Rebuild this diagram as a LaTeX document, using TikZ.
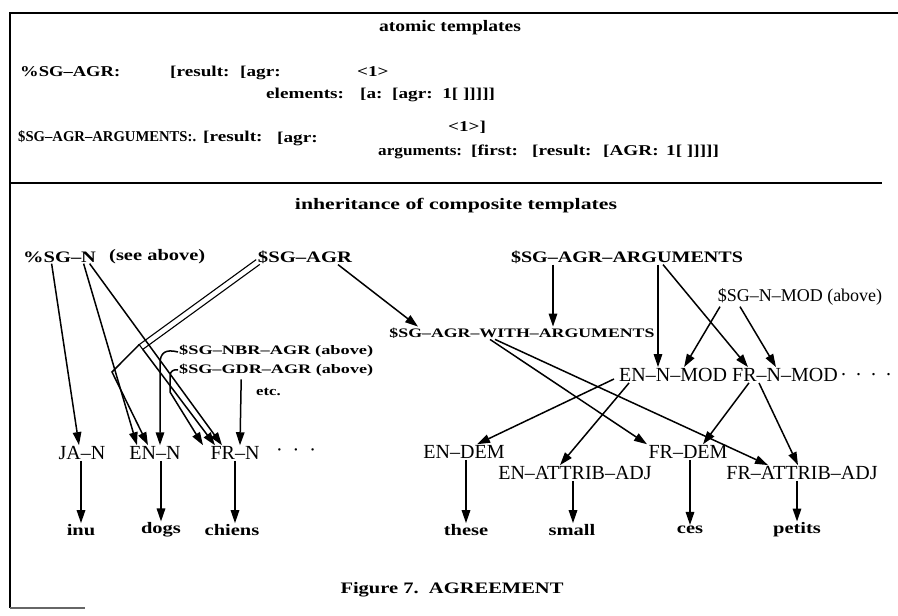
\documentclass[tikz,border=0pt]{standalone}
\usepackage{fontspec}
\setmainfont{Liberation Serif}[BoldFeatures={FakeStretch=1.28}]
\usetikzlibrary{arrows.meta}
\newcommand\fw[2]{\resizebox{#1}{\height}{#2}}
\begin{document}
\begin{tikzpicture}[x=1pt,y=-1pt,
  lab/.style={inner sep=1pt, font=\fontsize{20}{22}\selectfont},
  mlab/.style={inner sep=1pt, font=\fontsize{18}{20}\selectfont},
  blab/.style={inner sep=1pt, font=\fontsize{16}{18}\selectfont\bfseries},
  slab/.style={inner sep=1pt, font=\fontsize{13}{15}\selectfont\bfseries},
  tlab/.style={inner sep=0pt, anchor=base west, font=\fontsize{15}{17}\selectfont\bfseries},
  arr/.style={line width=1.5pt, -{Triangle[length=13pt,width=8.5pt]}},
]
\useasboundingbox (0,0) rectangle (898,616);
% frame
\draw[line width=2.5pt] (10,13) -- (898,13);
\draw[line width=2pt] (10,12) -- (10,608);
\draw[line width=1.5pt, black!60] (10,608) -- (85,608);
\draw[line width=1.5pt] (10,183) -- (882,183);

% atomic templates
\node[blab] (h1) at (450,28) {\fw{142pt}{atomic templates}};
\node[tlab] (t1) at (20,76) {\fw{100pt}{\%SG–AGR:}};
\node[tlab] (t2) at (170,76) {[result:};
\node[tlab] (t3) at (240,76) {[agr:};
\node[tlab] (t4) at (357,76) {<1>};
\node[tlab] (t5) at (266,98) {elements:};
\node[tlab] (t6) at (360,98) {[a:\ \ [agr:\ \ 1[\ ]]]]]};
\node[tlab] (u1) at (18,141) {\fw{178pt}{\$SG–AGR–ARGUMENTS:.}};
\node[tlab] (u2) at (203,141) {[result:};
\node[tlab] (u3) at (277,142) {[agr:};
\node[tlab] (u4) at (448,131) {<1>]};
\node[tlab] (u5) at (378,155) {\fw{84pt}{arguments:}};
\node[tlab] (u6) at (471,155) {[first:};
\node[tlab] (u7) at (532,155) {[result:};
\node[tlab] (u8) at (603,155) {[AGR:};
\node[tlab] (u9) at (666,155) {1[\ ]]]]]};

% inheritance
\node[blab] (h2) at (456,206) {\fw{322pt}{inheritance of composite templates}};
\node[blab, anchor=west] (sgn) at (22,257) {\%SG–N};
\node[blab, anchor=west] (see) at (108,257) {(see above)};
\node[blab] (sgagr) at (305,257) {\fw{94pt}{\$SG–AGR}};
\node[blab] (sgaa) at (627,257) {\fw{232pt}{\$SG–AGR–ARGUMENTS}};
\node[mlab] (sgnmod) at (800,297) {\$SG–N–MOD (above)};
\node[slab] (wargs) at (522,333) {\fw{265pt}{\$SG–AGR–WITH–ARGUMENTS}};
\node[slab, anchor=west] (nbr) at (178,351) {\fw{194pt}{\$SG–NBR–AGR (above)}};
\node[slab, anchor=west] (gdr) at (178,370) {\fw{194pt}{\$SG–GDR–AGR (above)}};
\node[slab, anchor=west] (etc) at (255,392) {etc.};
\node[lab, anchor=west] (enmod) at (618,375) {EN–N–MOD};
\node[lab, anchor=west] (frmod) at (731,375) {FR–N–MOD};
\node[lab, anchor=west] (mdots) at (840,375) {.\ \ .\ \ .\ \ .};

\node[lab] (jan) at (82,453) {JA–N};
\node[lab] (en) at (155,453) {EN–N};
\node[lab] (frn) at (235,453) {FR–N};
\node[lab] (ndots) at (296,453) {·\hspace{10pt}·\hspace{10pt}·};
\node[lab] (endem) at (464,452) {EN–DEM};
\node[lab] (frdem) at (688,452) {FR–DEM};
\node[lab] (enadj) at (575,473) {EN–ATTRIB–ADJ};
\node[lab] (fradj) at (802,473) {FR–ATTRIB–ADJ};

\node[blab] (inu) at (81,530) {inu};
\node[blab] (dogs) at (161,530) {dogs};
\node[blab] (chiens) at (232,530) {chiens};
\node[blab] (these) at (466,530) {these};
\node[blab] (small) at (572,530) {small};
\node[blab] (ces) at (690,530) {ces};
\node[blab] (petits) at (797,530) {petits};

\node[blab] (fig) at (452,590) {\fw{223pt}{Figure 7.\ \ AGREEMENT}};

% lower arrows
\draw[arr] (inu.north |- jan.south) -- (inu.north);
\draw[arr] (dogs.north |- en.south) -- (dogs.north);
\draw[arr] (frn.south) -- (frn.south |- chiens.north);
\draw[arr] (these.north |- endem.south) -- (these.north);
\draw[arr] ([xshift=-2]enadj.south) -- ([xshift=-2]enadj.south |- small.north);
\draw[arr] (ces.north |- frdem.south) -- (ces.north);
\draw[arr] (petits.north |- fradj.south) -- (petits.north);

% left upper arrows
\draw[arr] ([xshift=-8]sgn.south) -- ([xshift=-3]jan.north);
\draw[arr] ([xshift=24]sgn.south) -- ([xshift=-18]en.north);
\draw[arr] ([xshift=30]sgn.south) -- ([xshift=-13]frn.north);
\coordinate (j1) at (139.2,344.6);
\coordinate (j2) at (142.8,349.4);
\coordinate (k1) at (112,372);
\draw[line width=1.1pt] (256.2,259.6) -- (j1) -- (j2) -- (259.8,264.4);
\draw[arr] (j1) -- (k1) -- ([xshift=-7]en.north);
\draw[arr] (j2) -- ([xshift=-20]frn.north);
\draw[arr] ([yshift=-1]nbr.west) .. controls (166,349) and (160,352) .. (160,364) -- ([xshift=5]en.north);
\draw[arr] (gdr.west) .. controls (174,369) and (170,371) .. (170,376) -- (170,392) -- ([xshift=-32]frn.north);
\draw[arr] ([xshift=-35,yshift=-2]gdr.south) -- ([xshift=5]frn.north);

% right upper arrows
\draw[arr] ([xshift=33]sgagr.south) -- ([xshift=-104]wargs.north);
\draw[arr] ([xshift=-74]sgaa.south) -- ([xshift=-74]sgaa.south |- wargs.north);
\draw[arr] ([xshift=31]sgaa.south) -- ([xshift=31]sgaa.south |- enmod.north);
\draw[arr] ([xshift=36]sgaa.south) -- ([xshift=-37]frmod.north);
\draw[arr] ([xshift=-80]sgnmod.south) -- ([xshift=11]enmod.north);
\draw[arr] ([xshift=-60]sgnmod.south) -- ([xshift=-9]frmod.north);
\draw[arr] ([xshift=-32]wargs.south) -- ([xshift=-41]frdem.north);
\draw[arr] ([xshift=-27]wargs.south) -- ([xshift=-34]fradj.north);
\draw[arr] ([xshift=-4,yshift=-4]enmod.west) -- ([xshift=13]endem.north);
\draw[arr] ([xshift=-44]enmod.south) -- ([xshift=-15]enadj.north);
\draw[arr] ([xshift=-36]frmod.south) -- ([xshift=15]frdem.north);
\draw[arr] ([xshift=-26]frmod.south) -- ([xshift=-4]fradj.north);
\end{tikzpicture}
\end{document}
